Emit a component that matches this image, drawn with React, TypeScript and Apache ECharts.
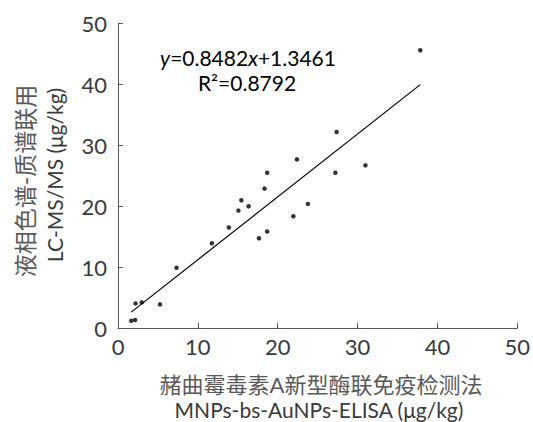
import React, { useEffect, useRef } from "react";
import * as echarts from "echarts";

const xTicks = [0, 10, 20, 30, 40, 50];
const yTicks = [0, 10, 20, 30, 40, 50];
const elisaValues = [1.66, 2.15, 2.2, 2.98, 5.26, 7.33, 11.76, 13.88, 15.08, 15.45, 16.36, 17.65, 18.35, 18.68, 18.68, 21.96, 22.41, 23.78, 27.22, 27.38, 30.99, 37.86];
const lcmsValues = [1.2, 1.31, 4.03, 4.2, 3.87, 9.87, 13.9, 16.47, 19.25, 20.94, 19.96, 14.72, 22.85, 25.46, 15.81, 18.32, 27.64, 20.34, 25.46, 32.12, 26.66, 45.53];
const trendX = [1.66, 37.86];
const trendY = [2.6, 39.9];
const equationText = "{i|y}=0.8482{i|x}+1.3461";
const r2Text = "R²=0.8792";
const yName = ["液相色谱-质谱联用", "LC-MS/MS (μg/kg)"];
const xName = ["赭曲霉毒素A新型酶联免疫检测法", "MNPs-bs-AuNPs-ELISA (μg/kg)"];

const FONT = "Lato, 'Noto Sans CJK SC', sans-serif";
const TEXT = "#3a3a3a";

export default function App() {
  const ref = useRef<HTMLDivElement>(null);
  useEffect(() => {
    if (!ref.current) return;
    const chart = echarts.init(ref.current, undefined, { renderer: "svg" });
    const points = elisaValues.map((x, i) => [x, lcmsValues[i]]);
    const trend = trendX.map((x, i) => [x, trendY[i]]);
    chart.setOption({
      animation: false,
      backgroundColor: "#ffffff",
      grid: { left: 118, right: 13, top: 23, bottom: 94 },
      xAxis: {
        type: "value",
        min: xTicks[0],
        max: xTicks[xTicks.length - 1],
        interval: 10,
        axisLine: { lineStyle: { color: "#595959", width: 1 } },
        axisTick: { inside: true, length: 5, lineStyle: { color: "#595959" } },
        splitLine: { show: false },
        axisLabel: { color: TEXT, fontSize: 22, fontFamily: FONT, margin: 7 },
      },
      yAxis: {
        type: "value",
        min: yTicks[0],
        max: yTicks[yTicks.length - 1],
        interval: 10,
        axisLine: { show: true, lineStyle: { color: "#595959", width: 1 } },
        axisTick: { show: true, inside: true, length: 5, lineStyle: { color: "#595959" } },
        splitLine: { show: false },
        axisLabel: { color: TEXT, fontSize: 22, fontFamily: FONT, margin: 11 },
      },
      series: [
        {
          type: "scatter",
          data: points,
          symbol: "circle",
          symbolSize: 4.5,
          itemStyle: { color: "#000000" },
        },
        {
          type: "line",
          data: trend,
          symbol: "none",
          lineStyle: { color: "#000000", width: 1.2 },
        },
      ],
      graphic: [
        {
          type: "text",
          x: 248,
          y: 57,
          style: {
            text: equationText,
            fontSize: 21,
            fontFamily: FONT,
            fill: "#000000",
            align: "center",
            verticalAlign: "middle",
            rich: {
              i: { fontStyle: "italic", fontSize: 21, fontFamily: FONT, fill: "#000000" },
            },
          },
        },
        {
          type: "text",
          x: 247,
          y: 82,
          style: {
            text: r2Text,
            fontSize: 21,
            fontFamily: FONT,
            fill: "#000000",
            align: "center",
            verticalAlign: "middle",
          },
        },
        {
          type: "text",
          x: 25,
          y: 181,
          rotation: Math.PI / 2,
          style: {
            text: yName[0],
            fontSize: 23,
            fontFamily: FONT,
            fill: "#595959",
            align: "center",
            verticalAlign: "middle",
          },
        },
        {
          type: "text",
          x: 54,
          y: 175,
          rotation: Math.PI / 2,
          style: {
            text: yName[1],
            fontSize: 21,
            fontFamily: FONT,
            fill: TEXT,
            align: "center",
            verticalAlign: "middle",
          },
        },
        {
          type: "text",
          x: 321,
          y: 384,
          style: {
            text: xName[0],
            fontSize: 22,
            fontFamily: FONT,
            fill: "#595959",
            align: "center",
            verticalAlign: "middle",
          },
        },
        {
          type: "text",
          x: 319,
          y: 409,
          style: {
            text: xName[1],
            fontSize: 21,
            fontFamily: FONT,
            fill: TEXT,
            align: "center",
            verticalAlign: "middle",
          },
        },
      ],
    });
    return () => chart.dispose();
  }, []);
  return (
    <div
      ref={ref}
      style={{ position: "absolute", left: 0, top: 0, width: 533, height: 422 }}
    />
  );
}
